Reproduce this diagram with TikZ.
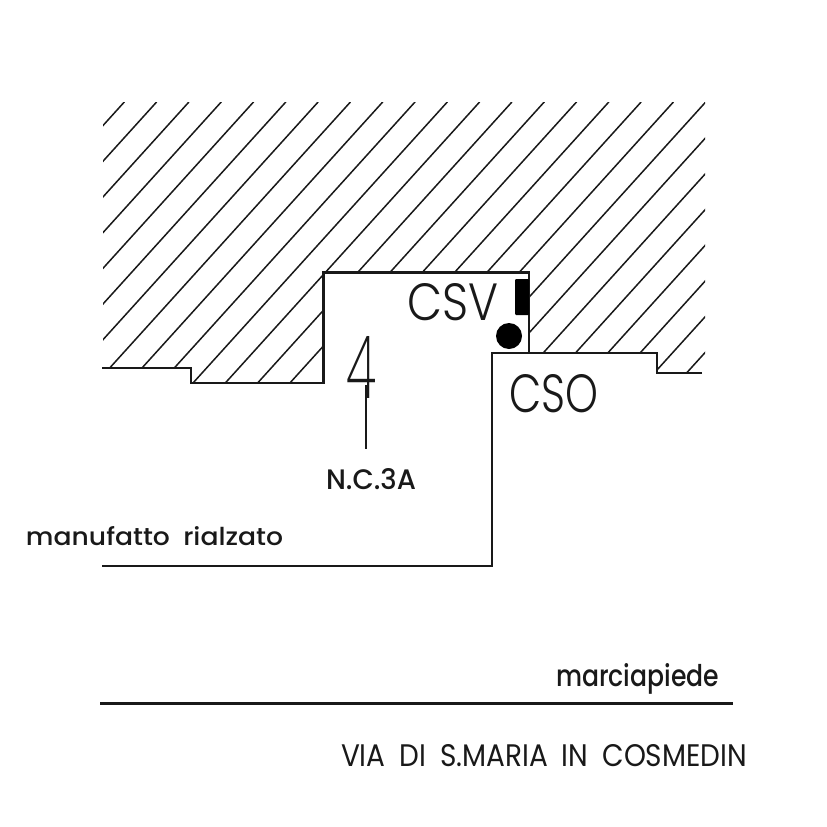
\documentclass[tikz,border=0pt]{standalone}
\usepackage{fontspec}
\usepackage{graphicx}
\setmainfont{Poppins}
\newfontfamily\thinf{Poppins Light}
\newfontfamily\xthinf{Poppins ExtraLight}
\newfontfamily\medf{Poppins Medium}
\newcommand{\fitw}[3]{\resizebox{#1pt}{#2pt}{#3}}
\tikzset{
  hatchline/.style={line width=1.5pt,line cap=round,black!90},
  outline/.style={line width=2.4pt,line join=miter,black!90},
  lbl/.style={inner sep=0pt,outer sep=0pt,anchor=base west,text=black!90},
  solidmark/.style={fill=black,draw=none}
}
\begin{document}
\begin{tikzpicture}[x=1pt,y=-1pt]
\useasboundingbox (0,0) rectangle (827,827);
\fill[white] (0,0) rectangle (827,827);
% hatching
\begin{scope}
\clip (103,102) -- (705,102) -- (705,373) -- (657,373) -- (657,353) -- (529,353) -- (529,272.5) -- (323.5,272.5) -- (323.5,383) -- (191,383) -- (191,368) -- (103,368) -- cycle;
\foreach \k in {0,...,26} {
  \draw[hatchline] ({124.3+32.3*\k},102) -- ({124.3+32.3*\k-270},{102+270*1.105});
}
\end{scope}
% outlines
\draw[outline] (102,368) -- (191,368) -- (191,383) -- (323.5,383) -- (323.5,272.5) -- (529,272.5) -- (529,353);
\draw[outline] (702,373) -- (657,373) -- (657,353) -- (492,353) -- (492,566) -- (102,566);
\draw[outline] (100,703.5) -- (733,703.5);
% seals
\fill[solidmark,rounded corners=1pt] (515,279) rectangle (529,315);
\fill[solidmark] (509,336) circle (13pt);
% labels
\node[lbl] (csv) at (407,320) {\fitw{91}{37}{\thinf CSV}};
\node[lbl] (cso) at (509,412) {\fitw{89}{38}{\thinf CSO}};
\node[lbl] (four) at (346,398) {\fitw{30}{62}{\xthinf 4}};
\coordinate (stemtop) at (365.6,385);
\coordinate (stemend) at (365.6,449);
\draw[line width=2pt,black!90] (stemtop) -- (stemend);
\node[lbl] (nc) at (326,489) {\fitw{90}{21}{\medf N.C.3A}};
\node[lbl] (man) at (26,545) {\fitw{257}{19}{\medf manufatto\hspace{0.5em}rialzato}};
\node[lbl] (mar) at (556,686) {\fitw{163}{23}{\medf marciapiede}};
\node[lbl] (via) at (341,766) {\fitw{406}{22}{VIA\hspace{0.5em}DI\hspace{0.5em}S.MARIA\hspace{0.5em}IN\hspace{0.5em}COSMEDIN}};
\end{tikzpicture}
\end{document}
